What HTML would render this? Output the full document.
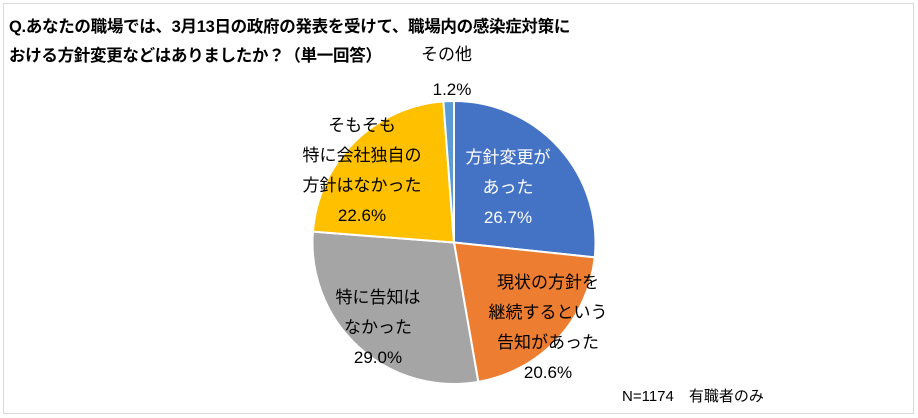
<!DOCTYPE html>
<html><head><meta charset="utf-8"><style>
body{margin:0;width:918px;height:418px;background:#fff;overflow:hidden;font-family:"Liberation Sans","Noto Sans CJK JP",sans-serif;}
#frame{position:absolute;left:3px;top:3px;width:909px;height:409px;border:1px solid #d9d9d9;}
.t{position:absolute;left:9px;font-size:16.5px;font-weight:bold;color:#000;white-space:nowrap;letter-spacing:-0.3px;}
svg{position:absolute;left:0;top:0}
</style></head><body>
<div id="frame"></div>
<div class="t" style="top:13px">Q.あなたの職場では、3月13日の政府の発表を受けて、職場内の感染症対策に</div>
<div class="t" style="top:42px">おける方針変更などはありましたか？（単一回答）</div>
<svg id="c" width="918" height="418"></svg>
<script>
const categories=["方針変更が\nあった","現状の方針を\n継続するという\n告知があった","特に告知は\nなかった","そもそも\n特に会社独自の\n方針はなかった","その他"];
const values=[26.7,20.6,29.0,22.6,1.2];
const labels=["26.7%","20.6%","29.0%","22.6%","1.2%"];
const colors=["#4472c4","#ed7d31","#a5a5a5","#ffc000","#5b9bd5"];
const svg=document.getElementById('c');
const NS="http://www.w3.org/2000/svg";
const cx=454,cy=242.5,r=141.5;
const total=values.reduce((a,b)=>a+b,0);
function pt(a,rr){return [cx+rr*Math.sin(a),cy-rr*Math.cos(a)];}
let a0=0;
const labelPos=[[508,187,"#fff"],[548,327,"#000"],[378,327,"#000"],[362,170,"#000"],[452,89,"#000"]];
values.forEach((v,i)=>{
  const a1=a0+v/total*2*Math.PI;
  const p0=pt(a0,r),p1=pt(a1,r);
  const large=(a1-a0)>Math.PI?1:0;
  const p=document.createElementNS(NS,'path');
  p.setAttribute('d',`M${cx},${cy}L${p0[0]},${p0[1]}A${r},${r} 0 ${large} 1 ${p1[0]},${p1[1]}Z`);
  p.setAttribute('fill',colors[i]);p.setAttribute('stroke','#fff');p.setAttribute('stroke-width','2');
  
  
  svg.appendChild(p);
  a0=a1;
});
values.forEach((v,i)=>{
  const [lx,ly,col]=labelPos[i];
  const lines=i===4?[labels[i]]:categories[i].split("\n").concat([labels[i]]);
  const n=lines.length, lh=30;
  const t=document.createElementNS(NS,'text');
  
  
  t.setAttribute('text-anchor','middle');t.setAttribute('font-size','17');t.setAttribute('fill',col);
  lines.forEach((s,j)=>{
    const ts=document.createElementNS(NS,'tspan');
    ts.setAttribute('x',lx);ts.setAttribute('y',ly-(n-1)*lh/2+j*lh+6);
    ts.textContent=s;t.appendChild(ts);
  });
  svg.appendChild(t);
});
const o=document.createElementNS(NS,'text');


o.setAttribute('x',421);o.setAttribute('y',60);o.setAttribute('font-size','17');o.textContent=categories[4];
svg.appendChild(o);
const n=document.createElementNS(NS,'text');


n.setAttribute('x',622);n.setAttribute('y',401);n.setAttribute('font-size','15');n.setAttribute('xml:space','preserve');n.textContent="N=1174　有職者のみ";
svg.appendChild(n);
</script>
</body></html>
